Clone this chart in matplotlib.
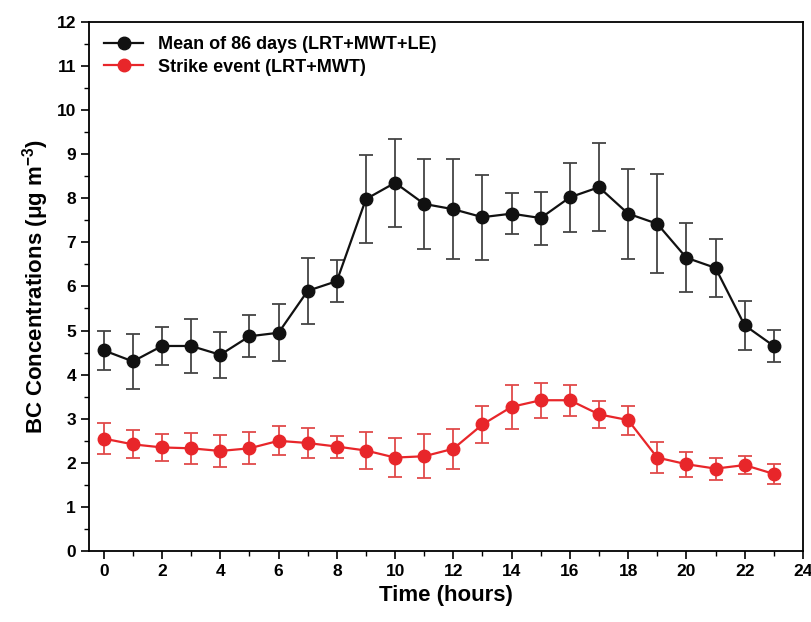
import numpy as np
import matplotlib.pyplot as plt
from matplotlib.ticker import MultipleLocator
from matplotlib.lines import Line2D

plt.rcParams['font.family'] = ['Liberation Sans', 'DejaVu Sans']
plt.rcParams['mathtext.fontset'] = 'custom'
plt.rcParams['mathtext.rm'] = 'Liberation Sans:bold'
plt.rcParams['mathtext.default'] = 'rm'

# Hora del dia
horas = np.arange(24)

# Media de 86 dias (LRT+MWT+LE)
media = [4.55, 4.30, 4.65, 4.65, 4.45, 4.87, 4.95, 5.90, 6.12, 7.98, 8.35, 7.87,
         7.75, 7.57, 7.65, 7.55, 8.02, 8.25, 7.65, 7.42, 6.65, 6.42, 5.12, 4.65]
err_media = [0.45, 0.62, 0.42, 0.62, 0.52, 0.48, 0.65, 0.75, 0.48, 1.00, 1.00, 1.02,
             1.13, 0.96, 0.46, 0.60, 0.78, 1.00, 1.02, 1.12, 0.78, 0.66, 0.55, 0.36]

# Evento de huelga (LRT+MWT)
huelga = [2.55, 2.42, 2.35, 2.33, 2.27, 2.33, 2.50, 2.45, 2.37, 2.28, 2.12, 2.15,
          2.32, 2.87, 3.27, 3.42, 3.42, 3.10, 2.97, 2.12, 1.97, 1.87, 1.95, 1.75]
err_huelga = [0.35, 0.32, 0.30, 0.35, 0.36, 0.36, 0.33, 0.35, 0.25, 0.42, 0.45, 0.50,
              0.45, 0.42, 0.50, 0.40, 0.35, 0.30, 0.33, 0.35, 0.28, 0.25, 0.20, 0.23]

fig = plt.figure(figsize=(8.11, 6.22), dpi=100)
ax = fig.add_axes([0.11, 0.114, 0.88, 0.851])

ax.errorbar(horas, media, yerr=err_media, color='#111111', ecolor='#444444',
            marker='o', markersize=9, linewidth=1.6, elinewidth=1.3, capsize=5,
            capthick=1.3)
ax.errorbar(horas, huelga, yerr=err_huelga, color='#e8262a', ecolor='#e04a4a',
            marker='o', markersize=9, linewidth=1.6, elinewidth=1.3, capsize=5,
            capthick=1.3)

ax.set_xlim(-0.5, 24)
ax.set_ylim(0, 12)
ax.xaxis.set_major_locator(MultipleLocator(2))
ax.xaxis.set_minor_locator(MultipleLocator(1))
ax.yaxis.set_major_locator(MultipleLocator(1))
ax.yaxis.set_minor_locator(MultipleLocator(0.5))
ax.tick_params(which='major', direction='out', length=6, width=1.2,
               labelsize=12.5, top=False, right=False)
ax.tick_params(which='minor', direction='out', length=3.5, width=1.0,
               top=False, right=False)
for lab in ax.get_xticklabels() + ax.get_yticklabels():
    lab.set_fontweight('bold')
for s in ax.spines.values():
    s.set_linewidth(1.3)

ax.set_xlabel('Time (hours)', fontsize=16, fontweight='bold')
ax.set_ylabel('BC Concentrations (μg m$^{-3}$)', fontsize=16, fontweight='bold')

handles = [Line2D([], [], color='#111111', marker='o', markersize=9, linewidth=1.6),
           Line2D([], [], color='#e8262a', marker='o', markersize=9, linewidth=1.6)]
labels = ['Mean of 86 days (LRT+MWT+LE)', 'Strike event (LRT+MWT)']
leg = ax.legend(handles, labels, loc='upper left', frameon=False, fontsize=13,
                handlelength=2.2, borderaxespad=0.4, labelspacing=0.3)
for t in leg.get_texts():
    t.set_fontweight('bold')

fig.savefig('out.png', dpi=100)
